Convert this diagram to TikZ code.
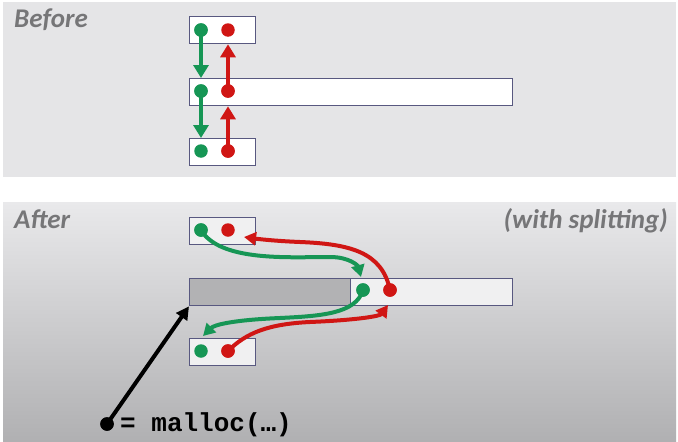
\documentclass[tikz,border=0pt]{standalone}
\usepackage{fontspec}
\setmainfont{Carlito}
\newfontfamily\codefont{Liberation Mono}
\usetikzlibrary{arrows.meta}
\definecolor{ptgreen}{RGB}{22,150,85}
\definecolor{ptred}{RGB}{208,22,20}
\definecolor{boxline}{RGB}{88,88,128}
\definecolor{titlegray}{RGB}{118,118,120}
\definecolor{panelgray}{RGB}{229,229,231}
\definecolor{usedgray}{RGB}{178,178,180}
\definecolor{freegray}{RGB}{240,240,241}
\begin{document}
\begin{tikzpicture}[x=1pt,y=-1pt,
  blk/.style={draw=boxline,line width=1.3pt,anchor=north west,inner sep=0pt,minimum height=27pt},
  gdot/.style={circle,fill=ptgreen,inner sep=0pt,minimum size=13.5pt},
  rdot/.style={circle,fill=ptred,inner sep=0pt,minimum size=13.5pt},
  kdot/.style={circle,fill=black,inner sep=0pt,minimum size=13.5pt},
  garr/.style={draw=ptgreen,line width=4.2pt,-{Triangle[width=15pt,length=13pt]}},
  rarr/.style={draw=ptred,line width=4.2pt,-{Triangle[width=15pt,length=13pt]}},
  gcur/.style={draw=ptgreen,line width=4pt,-{Triangle[width=13pt,length=12pt]}},
  rcur/.style={draw=ptred,line width=4pt,-{Triangle[width=13pt,length=12pt]}},
  karr/.style={draw=black,line width=4pt,-{Triangle[width=13pt,length=13pt]}},
  ttl/.style={font=\fontsize{27}{27}\selectfont\bfseries\itshape,text=titlegray,inner sep=0pt}
]
\useasboundingbox (0,0) rectangle (678,442);
\fill[white] (0,0) rectangle (678,442);
% panels
\fill[panelgray] (3,2) rectangle (676,177);
\shade[top color={rgb,255:red,233;green,233;blue,235},bottom color={rgb,255:red,176;green,176;blue,178}] (3,202) rectangle (676,442);

% ---------- Before ----------
\node[ttl,anchor=base west] (tb) at (14,27) {Before};
\node[blk,fill=white,minimum width=66pt] (b1) at (189,16) {};
\node[blk,fill=white,minimum width=323pt] (b2) at (189,78) {};
\node[blk,fill=white,minimum width=66pt] (b3) at (189,138) {};
\node[gdot] (bg1) at (201,30) {};
\node[rdot] (br1) at (228,30) {};
\node[gdot] (bg2) at (201,91) {};
\node[rdot] (br2) at (228,91) {};
\node[gdot] (bg3) at (201,151) {};
\node[rdot] (br3) at (228,151) {};
\draw[garr] (bg1.center) -- (bg1.center |- b2.north);
\draw[garr] (bg2.center) -- (bg2.center |- b3.north);
\draw[rarr] (br2.center) -- (br2.center |- b1.south);
\draw[rarr] (br3.center) -- (br3.center |- b2.south);
\node[gdot] at (bg1) {};
\node[gdot] at (bg2) {};
\node[rdot] at (br2) {};
\node[rdot] at (br3) {};

% ---------- After ----------
\node[ttl,anchor=base west] (ta) at (14,228) {After};
\node[ttl,anchor=base east] (tw) at (668,228) {(with splitting)};
\node[blk,fill=freegray,minimum width=66pt] (a1) at (189,217) {};
\node[blk,fill=freegray,minimum width=323pt] (a2) at (189,278) {};
\node[blk,fill=usedgray,minimum width=161pt] (a2u) at (189,278) {};
\node[blk,fill=freegray,minimum width=66pt] (a3) at (189,338) {};
\node[gdot] (ag1) at (201,230) {};
\node[rdot] (ar1) at (228,230) {};
\node[gdot] (ag2) at (363,290) {};
\node[rdot] (ar2) at (390,290) {};
\node[gdot] (ag3) at (201,351) {};
\node[rdot] (ar3) at (228,351) {};
\coordinate (tg1) at (361,277);
\coordinate (tr1) at (244,237);
\coordinate (tg2) at (203,336);
\coordinate (tr2) at (388,305);
\draw[gcur] (ag1.center) .. controls (220,262) and (290,257) .. (330,257) .. controls (350,257) and (358,266) .. (tg1);
\draw[rcur] (ar2.center) .. controls (382,252) and (350,244) .. (300,242) .. controls (275,241) and (258,239) .. (tr1);
\draw[gcur] (ag2.center) .. controls (356,314) and (320,316) .. (280,318) .. controls (232,320) and (214,325) .. (tg2);
\draw[rcur] (ar3.center) .. controls (246,333) and (268,324) .. (310,322) .. controls (358,320) and (380,316) .. (tr2);
\node[gdot] at (ag1) {};
\node[gdot] at (ag2) {};
\node[rdot] at (ar2) {};
\node[rdot] at (ar3) {};

% malloc pointer
\node[kdot] (md) at (107,424) {};
\draw[karr] (md.center) -- (a2u.south west);
\node[kdot] at (md) {};
\node[anchor=west,inner sep=0pt,font=\codefont\bfseries\fontsize{26}{26}\selectfont] (mt) at (120,425) {= malloc(…)};
\end{tikzpicture}
\end{document}
